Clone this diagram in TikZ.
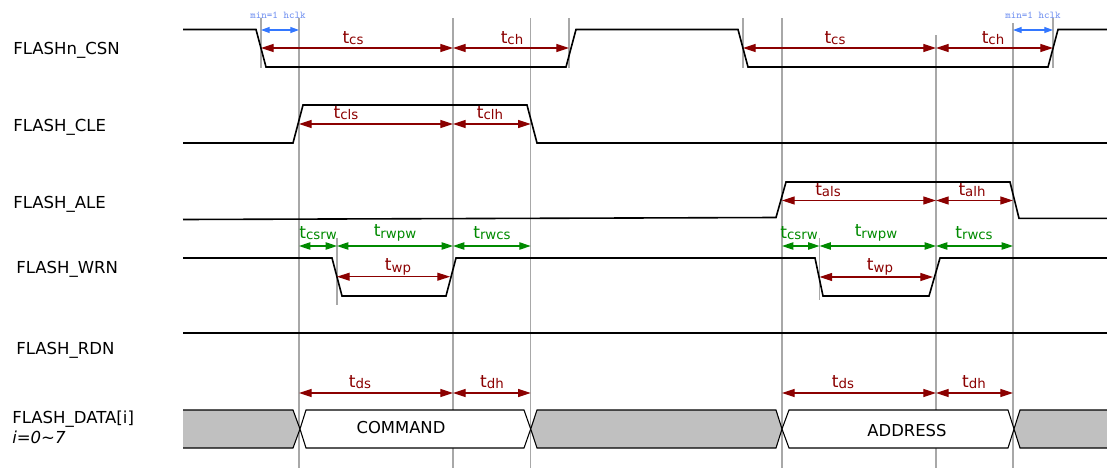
\documentclass[tikz,border=0pt]{standalone}
\usepackage{fontspec}
\setmainfont{DejaVu Sans}
\usetikzlibrary{arrows.meta}
\definecolor{dred}{HTML}{8B0000}
\definecolor{dgreen}{HTML}{008A00}
\definecolor{barrow}{HTML}{3377FF}
\definecolor{btext}{HTML}{7090F0}
\definecolor{gline}{HTML}{A8A8A8}
\definecolor{busgrey}{HTML}{C0C0C0}
\newcommand{\tsub}[1]{t\raisebox{-1.2pt}{\fontsize{10}{10}\selectfont #1}}
\tikzset{
  wave/.style={black, line width=1.2pt, line join=miter},
  gridl/.style={gline, line width=0.9pt},
  redarr/.style={dred, line width=0.85pt, {Triangle[length=9.5pt,width=6pt]}-{Triangle[length=9.5pt,width=6pt]}},
  greenarr/.style={dgreen, line width=0.85pt, {Triangle[length=8.5pt,width=5.5pt]}-{Triangle[length=8.5pt,width=5.5pt]}},
  bluearr/.style={barrow, line width=0.85pt, {Triangle[length=6.5pt,width=4.5pt]}-{Triangle[length=6.5pt,width=4.5pt]}},
  siglab/.style={anchor=west, inner sep=0pt, font=\fontsize{12.4}{14}\selectfont},
  rlab/.style={dred, inner sep=0pt, font=\fontsize{12.8}{14}\selectfont},
  glab/.style={dgreen, inner sep=0pt, font=\fontsize{12.8}{14}\selectfont},
  hclk/.style={btext, inner sep=0pt, font=\fontsize{7.8}{8}\ttfamily},
  busg/.style={fill=busgrey, draw=black, line width=0.8pt},
  busw/.style={fill=white, draw=black, line width=0.8pt},
  bustext/.style={inner sep=0pt, font=\fontsize{12.3}{14}\selectfont}
}
\begin{document}
\begin{tikzpicture}[x=0.75pt,y=-0.75pt]
\useasboundingbox (0,0) rectangle (1107,468);

% vertical reference lines
\foreach \x/\a/\b in {261/18/68, 299/18/468, 453/18/468, 530.7/18/468, 569/18/68, 337/238/305,
  743/18/68, 782/18/468, 819.5/238/300, 936/35/468, 1013/23/468, 1053/18/68}
  \draw[gridl] (\x,\a) -- (\x,\b);

% signal names
\node[siglab] (lcsn) at (13,50) {FLASHn\_CSN};
\node[siglab] (lcle) at (13,127) {FLASH\_CLE};
\node[siglab] (lale) at (13,204) {FLASH\_ALE};
\node[siglab] (lwrn) at (16,269) {FLASH\_WRN};
\node[siglab] (lrdn) at (16,350) {FLASH\_RDN};
\node[siglab] (ldata) at (12,419) {FLASH\_DATA[i]};
\node[siglab] (lidx) at (12,437) {\itshape i=0\textasciitilde 7};

% waveforms
\draw[wave] (183,29.5) -- (256,29.5) -- (266,67) -- (566,67) -- (576,29.5) -- (738,29.5) -- (748,67) -- (1048,67) -- (1058,29.5) -- (1107,29.5);
\draw[wave] (183,143) -- (293,143) -- (303,105) -- (527,105) -- (537,143) -- (1107,143);
\draw[wave] (183,219.5) -- (776,217.5) -- (786,182) -- (1010,182) -- (1019,218.3) -- (1107,218.3);
\draw[wave] (183,258) -- (332,258) -- (342,296) -- (446,296) -- (456,258) -- (815,258) -- (823,296) -- (929,296) -- (940,258) -- (1107,258);
\draw[wave] (183,333) -- (1107,333);

% data bus
\fill[busgrey] (183,410) -- (293,410) -- (300,429) -- (293,448) -- (183,448) -- cycle;
\draw[black, line width=0.8pt] (183,410) -- (293,410) -- (300,429) -- (293,448) -- (183,448);
\draw[busw] (306,410) -- (524,410) -- (530.7,429) -- (524,448) -- (306,448) -- (300,429) -- cycle;
\draw[busg] (537,410) -- (776,410) -- (782,429) -- (776,448) -- (537,448) -- (530.7,429) -- cycle;
\draw[busw] (789,410) -- (1008,410) -- (1014,429) -- (1008,448) -- (789,448) -- (782,429) -- cycle;
\fill[busgrey] (1020,410) -- (1107,410) -- (1107,448) -- (1020,448) -- (1014,429) -- cycle;
\draw[black, line width=0.8pt] (1107,410) -- (1020,410) -- (1014,429) -- (1020,448) -- (1107,448);
\node[bustext] (cmd) at (401,428) {COMMAND};
\node[bustext] (addr) at (907,431) {ADDRESS};

% arrow end points
\coordinate (a1) at (261,48);   \coordinate (a2) at (453,48);   \coordinate (a3) at (569,48);
\coordinate (a4) at (743,48);   \coordinate (a5) at (936,48);   \coordinate (a6) at (1053,48);
\coordinate (b1) at (261,30);   \coordinate (b2) at (299,30);
\coordinate (b3) at (1013,30);  \coordinate (b4) at (1053,30);
\coordinate (c1) at (299,124);  \coordinate (c2) at (453,124);  \coordinate (c3) at (530.7,124);
\coordinate (d1) at (782,200.5); \coordinate (d2) at (936,200.5); \coordinate (d3) at (1013,200.5);
\coordinate (e1) at (299,246);  \coordinate (e2) at (337,246);  \coordinate (e3) at (453,246);  \coordinate (e4) at (530.7,246);
\coordinate (e5) at (782,246);  \coordinate (e6) at (819.5,246); \coordinate (e7) at (936,246); \coordinate (e8) at (1013,246);
\coordinate (f1) at (337,276.7); \coordinate (f2) at (450,276.7);
\coordinate (f3) at (819.5,277); \coordinate (f4) at (933,277);
\coordinate (g1) at (299,393);  \coordinate (g2) at (453,393);  \coordinate (g3) at (530.7,393);
\coordinate (g4) at (782,393);  \coordinate (g5) at (936,393);  \coordinate (g6) at (1013,393);

% arrows
\draw[redarr] (a1) -- (a2);  \draw[redarr] (a2) -- (a3);
\draw[redarr] (a4) -- (a5);  \draw[redarr] (a5) -- (a6);
\draw[bluearr] (b1) -- (b2); \draw[bluearr] (b3) -- (b4);
\draw[redarr] (c1) -- (c2);  \draw[redarr] (c2) -- (c3);
\draw[redarr] (d1) -- (d2);  \draw[redarr] (d2) -- (d3);
\draw[greenarr] (e1) -- (e2); \draw[greenarr] (e2) -- (e3); \draw[greenarr] (e3) -- (e4);
\draw[greenarr] (e5) -- (e6); \draw[greenarr] (e6) -- (e7); \draw[greenarr] (e7) -- (e8);
\draw[redarr] (f1) -- (f2);  \draw[redarr] (f3) -- (f4);
\draw[redarr] (g1) -- (g2);  \draw[redarr] (g2) -- (g3);
\draw[redarr] (g4) -- (g5);  \draw[redarr] (g5) -- (g6);

% labels
\node[hclk] (h1) at (278,15) {min=1 hclk};
\node[hclk] (h2) at (1033,15) {min=1 hclk};
\node[rlab] (tcs1) at (353,38) {\tsub{cs}};
\node[rlab] (tch1) at (512,38) {\tsub{ch}};
\node[rlab] (tcs2) at (835,38) {\tsub{cs}};
\node[rlab] (tch2) at (993,38) {\tsub{ch}};
\node[rlab] (tcls) at (346,113) {\tsub{cls}};
\node[rlab] (tclh) at (490,113) {\tsub{clh}};
\node[rlab] (tals) at (828,190) {\tsub{als}};
\node[rlab] (talh) at (972,190) {\tsub{alh}};
\node[glab] (tcsrw1) at (318,233) {\tsub{csrw}};
\node[glab] (trwpw1) at (395,233) {\tsub{rwpw}};
\node[glab] (trwcs1) at (492,233) {\tsub{rwcs}};
\node[glab] (tcsrw2) at (799,233) {\tsub{csrw}};
\node[glab] (trwpw2) at (876,233) {\tsub{rwpw}};
\node[glab] (trwcs2) at (974,233) {\tsub{rwcs}};
\node[rlab] (twp1) at (398,266.7) {\tsub{wp}};
\node[rlab] (twp2) at (880,266.7) {\tsub{wp}};
\node[rlab] (tds1) at (360,382) {\tsub{ds}};
\node[rlab] (tdh1) at (492,382) {\tsub{dh}};
\node[rlab] (tds2) at (843,382) {\tsub{ds}};
\node[rlab] (tdh2) at (974,382) {\tsub{dh}};
\end{tikzpicture}
\end{document}
